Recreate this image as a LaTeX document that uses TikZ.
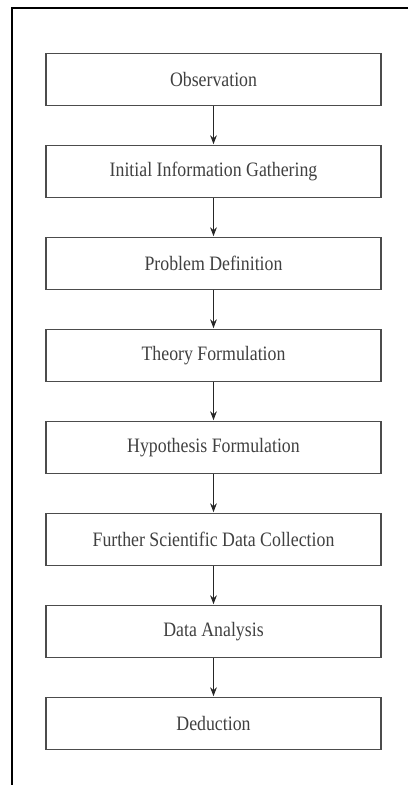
\documentclass[tikz,border=0pt]{standalone}
\usepackage{fontspec}
\setmainfont{Liberation Serif}
\usetikzlibrary{positioning,arrows.meta}
\newcommand{\tallText}[1]{\scalebox{1}[1.15]{#1}}

\begin{document}
\begin{tikzpicture}[>=Stealth,node distance=92pt,on grid,
 stage/.style={draw=black!70,line width=1.6pt,minimum width=335pt,minimum height=52pt,font=\fontsize{17.8}{20}\selectfont,text=black!75},
 flow/.style={->,line width=1.3pt,draw=black!85,shorten >=0.5pt}]
\useasboundingbox (0,0) rectangle (408pt,-785pt);
\coordinate (tr) at (408pt,-8pt); \coordinate (tl) at (12pt,-8pt); \coordinate (bl) at (12pt,-785pt);
\draw[line width=2pt] (tr) -- (tl) -- (bl);
\node[stage] (obs) at (213.5pt,-79.5pt) {\tallText{Observation}};
\node[stage] (info) [below=of obs] {\tallText{Initial Information Gathering}};
\node[stage] (prob) [below=of info] {\tallText{Problem Definition}};
\node[stage] (theory) [below=of prob] {\tallText{Theory Formulation}};
\node[stage] (hyp) [below=of theory] {\tallText{Hypothesis Formulation}};
\node[stage] (data) [below=of hyp] {\tallText{Further Scientific Data Collection}};
\node[stage] (anal) [below=of data] {\tallText{Data Analysis}};
\node[stage] (ded) [below=of anal] {\tallText{Deduction}};
\foreach \a/\b in {obs/info,info/prob,prob/theory,theory/hyp,hyp/data,data/anal,anal/ded}
 \draw[flow] (\a) -- (\b);
\end{tikzpicture}
\end{document}
